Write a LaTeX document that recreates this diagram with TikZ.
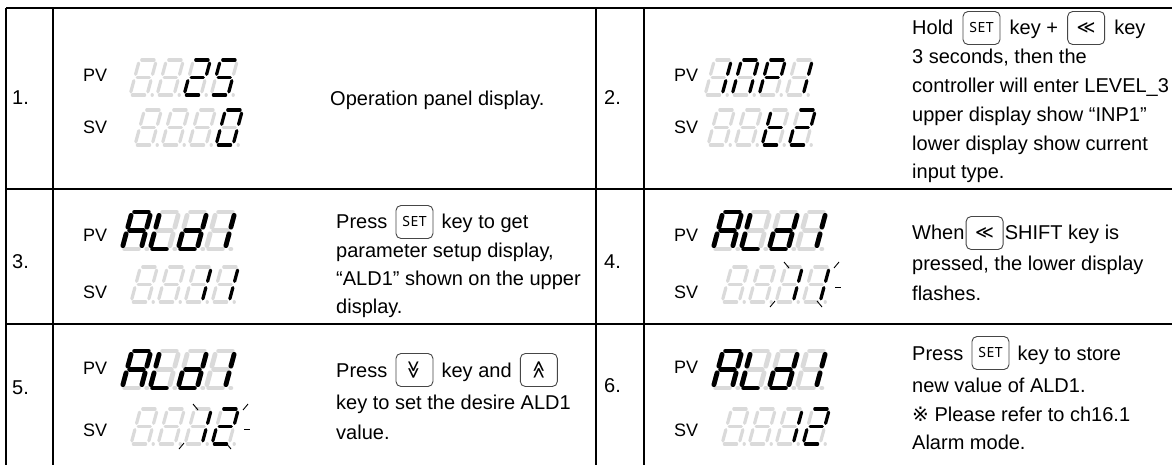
\documentclass[tikz,border=0pt]{standalone}
\usepackage{fontspec}
\usepackage{graphicx}
\setmainfont{Liberation Sans}
\newfontfamily\symf{DejaVu Sans}
\newfontfamily\keyf{Noto Sans}
\usetikzlibrary{calc}
\definecolor{segoff}{RGB}{218,218,218}
\definecolor{keyline}{RGB}{70,70,70}

\def\sega{(0.14,1)--(0.86,1)}
\def\segb{(1,0.91)--(1,0.59)}
\def\segc{(1,0.41)--(1,0.09)}
\def\segd{(0.14,0)--(0.86,0)}
\def\sege{(0,0.09)--(0,0.41)}
\def\segf{(0,0.59)--(0,0.91)}
\def\segg{(0.14,0.5)--(0.86,0.5)}
\def\segp{(1.3,0)--(1.31,0)}
\def\segx{(0,0)}

\newcommand\sdig[6]{%
  \begin{scope}[shift={(#1,#2)}, x={(#3pt,0pt)}, y={(0.27*#4pt,#4pt)}, line width=#5pt, line cap=round]
    \foreach \s in {a,b,c,d,e,f,g,p}{\edef\tmp{\noexpand\draw[segoff] \csname seg\s\endcsname;}\tmp}
    \foreach \s in {#6}{\edef\tmp{\noexpand\draw[black] \csname seg\s\endcsname;}\tmp}
  \end{scope}}
\def\szS{\def\dW{17}\def\dH{35}\def\dL{3.2}\def\dP{27}}
\def\szB{\def\dW{19}\def\dH{37}\def\dL{4.8}\def\dP{28}}
\newcommand\sdisp[7]{%
  \begingroup #3%
  \sdig{#1}{#2}{\dW}{\dH}{\dL}{#4}%
  \sdig{#1+\dP}{#2}{\dW}{\dH}{\dL}{#5}%
  \sdig{#1+2*\dP}{#2}{\dW}{\dH}{\dL}{#6}%
  \sdig{#1+3*\dP}{#2}{\dW}{\dH}{\dL}{#7}%
  \endgroup}

\tikzset{
  grid/.style={line width=2.5pt, black},
  txt/.style={font=\fontsize{20}{24}\selectfont, inner sep=0pt, anchor=base west},
  lbl/.style={font=\fontsize{18}{22}\selectfont, inner sep=0pt, anchor=west},
  num/.style={font=\fontsize{20}{23}\selectfont, inner sep=0pt, anchor=west},
  keybox/.style={draw=keyline, line width=0.9pt, rounded corners=5pt, minimum width=37pt, minimum height=33pt, inner sep=0pt, anchor=west},
  ray/.style={line width=0.9pt, black},
}
\newcommand\setkey{\keyf\fontsize{14}{14}\selectfont S\kern0.6pt E\kern0.6pt T}
\newcommand\chev{\symf\fontsize{18}{18}\selectfont ≪}

\begin{document}
\begin{tikzpicture}[x=1pt,y=-1pt]
\useasboundingbox (0,0) rectangle (1172,465);
\fill[white] (0,0) rectangle (1172,465);

% grid
\draw[grid] (6,8) -- (1172,8);
\draw[grid] (6,189) -- (1172,189);
\draw[grid] (6,324) -- (1172,324);
\draw[grid] (6,8) -- (6,465);
\draw[grid] (53,8) -- (53,465);
\draw[grid] (596,8) -- (596,465);
\draw[grid] (644,8) -- (644,465);

% numbers
\node[num] (n1) at (12,98) {1.};
\node[num] (n2) at (604,98) {2.};
\node[num] (n3) at (12,262) {3.};
\node[num] (n4) at (604,262) {4.};
\node[num] (n5) at (12,388) {5.};
\node[num] (n6) at (604,386) {6.};

% labels
\node[lbl] (pv1) at (83,75) {PV};
\node[lbl] (sv1) at (83,127) {SV};
\node[lbl] (pv2) at (674,75) {PV};
\node[lbl] (sv2) at (674,127) {SV};
\node[lbl] (pv3) at (83,235) {PV};
\node[lbl] (sv3) at (83,292) {SV};
\node[lbl] (pv4) at (674,235) {PV};
\node[lbl] (sv4) at (674,292) {SV};
\node[lbl] (pv5) at (83,368) {PV};
\node[lbl] (sv5) at (83,430) {SV};
\node[lbl] (pv6) at (674,367) {PV};
\node[lbl] (sv6) at (674,430) {SV};

% displays
\sdisp{130}{95}{\szS}{x}{x}{a,b,g,e,d}{a,f,g,c,d}
\sdisp{135}{145}{\szS}{x}{x}{x}{a,b,c,d,e,f}
\sdisp{705}{95}{\szS}{b,c}{a,b,c,e,f}{a,b,e,f,g}{b,c}
\sdisp{708}{145}{\szS}{x}{x}{d,e,f,g}{a,b,g,e,d}

\sdisp{122}{249}{\szB}{a,b,c,e,f,g}{d,e,f}{b,c,d,e,g}{b,c}
\sdisp{131}{302}{\szS}{x}{x}{b,c}{b,c}
\sdisp{713}{249}{\szB}{a,b,c,e,f,g}{d,e,f}{b,c,d,e,g}{b,c}
\sdisp{722}{302}{\szS}{x}{x}{b,c}{b,c}

\sdisp{122}{388}{\szB}{a,b,c,e,f,g}{d,e,f}{b,c,d,e,g}{b,c}
\sdisp{131}{444}{\szS}{x}{x}{b,c}{a,b,g,e,d}
\sdisp{713}{388}{\szB}{a,b,c,e,f,g}{d,e,f}{b,c,d,e,g}{b,c}
\sdisp{722}{444}{\szS}{x}{x}{b,c}{a,b,g,e,d}

% flash rays row 4 (around last two digits)
\draw[ray] (784,262) -- (789,268);
\draw[ray] (839,262) -- (834,268);
\draw[ray] (835,287) -- (841,287);
\draw[ray] (770,307) -- (775,301);
\draw[ray] (822,307) -- (817,301);
% flash rays row 5
\draw[ray] (193,404) -- (198,410);
\draw[ray] (248,404) -- (243,410);
\draw[ray] (244,429) -- (250,429);
\draw[ray] (179,449) -- (184,443);
\draw[ray] (231,449) -- (226,443);

% row 1 text
\node[txt] (t1) at (330,106) {Operation panel display.};

% row 2 text
\node[txt] (t2a) at (912,35) {Hold};
\node[keybox] (k2a) at ($(t2a.base east)+(9,-7)$) {\setkey};
\node[txt] (t2b) at ($(k2a.east |- t2a.base)+(9,0)$) {key +};
\node[keybox] (k2b) at ($(t2b.base east)+(9,-7)$) {\chev};
\node[txt] (t2c) at ($(k2b.east |- t2a.base)+(9,0)$) {key};
\node[txt] (t2d) at (912,64) {3 seconds, then the};
\node[txt] (t2e) at (912,93) {controller will enter LEVEL\_3};
\node[txt] (t2f) at (912,122) {upper display show “INP1”};
\node[txt] (t2g) at (912,151) {lower display show current};
\node[txt] (t2h) at (912,179) {input type.};

% row 3 text
\node[txt] (t3a) at (336,229) {Press};
\node[keybox] (k3a) at ($(t3a.base east)+(8,-7)$) {\setkey};
\node[txt] (t3b) at ($(k3a.east |- t3a.base)+(8,0)$) {key to get};
\node[txt] (t3c) at (336,257) {parameter setup display,};
\node[txt] (t3d) at (336,285) {“ALD1” shown on the upper};
\node[txt] (t3e) at (336,313) {display.};

% row 4 text
\node[txt] (t4a) at (912,240) {When};
\node[keybox] (k4a) at ($(t4a.base east)+(1,-7)$) {\chev};
\node[txt] (t4b) at ($(k4a.east |- t4a.base)+(1,0)$) {SHIFT key is};
\node[txt] (t4c) at (912,270) {pressed, the lower display};
\node[txt] (t4d) at (912,300) {flashes.};

% row 5 text
\node[txt] (t5a) at (336,377) {Press};
\node[keybox] (k5a) at ($(t5a.base east)+(8,-7)$) {\symf\fontsize{18}{18}\selectfont\rotatebox{90}{≪}};
\node[txt] (t5b) at ($(k5a.east |- t5a.base)+(8,0)$) {key and};
\node[keybox] (k5b) at ($(t5b.base east)+(8,-7)$) {\symf\fontsize{18}{18}\selectfont\rotatebox{-90}{≪}};
\node[txt] (t5c) at (336,409) {key to set the desire ALD1};
\node[txt] (t5d) at (336,439) {value.};

% row 6 text
\node[txt] (t6a) at (912,360) {Press};
\node[keybox] (k6a) at ($(t6a.base east)+(8,-7)$) {\setkey};
\node[txt] (t6b) at ($(k6a.east |- t6a.base)+(8,0)$) {key to store};
\node[txt] (t6c) at (912,392) {new value of ALD1.};
\node[txt] (t6d) at (912,421) {{\symf ※} Please refer to ch16.1};
\node[txt] (t6e) at (912,449) {Alarm mode.};
\end{tikzpicture}
\end{document}
